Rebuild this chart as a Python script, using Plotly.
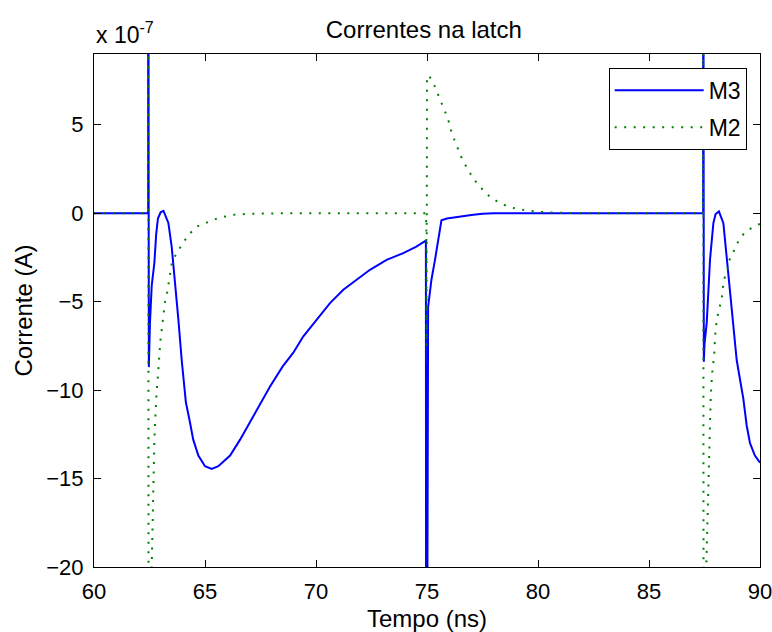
import plotly.graph_objects as go

# Correntes nos transistores da latch, em unidades de 1e-7 A, versus tempo em ns
t_m3 = [60.0, 62.44, 62.44, 62.47, 62.52, 62.6, 62.72, 62.8, 62.88, 63.0, 63.13,
        63.35, 63.5, 63.65, 63.8, 63.95, 64.02, 64.14, 64.32, 64.47, 64.7, 65.0,
        65.3, 65.6, 66.13, 66.58, 67.03, 67.48, 67.93, 68.5, 68.97, 69.43, 70.03,
        70.63, 71.23, 71.83, 72.43, 73.18, 73.93, 74.5, 74.95, 74.96, 75.0, 75.05,
        75.14, 75.2, 75.36, 75.5, 75.58, 75.65, 75.9, 76.4, 77.0, 77.5, 78.0,
        87.44, 87.44, 87.47, 87.5, 87.6, 87.75, 87.9, 88.0, 88.15, 88.35, 88.5,
        88.65, 88.8, 88.95, 89.1, 89.25, 89.4, 89.55, 89.77, 89.93, 90.0]
i_m3 = [0.0, 0.0, 30.0, -8.7, -6.2, -4.1, -2.8, -1.2, -0.3, 0.05, 0.13,
        -0.55, -1.9, -3.76, -6.0, -8.3, -9.2, -10.7, -11.8, -12.8, -13.7, -14.3,
        -14.45, -14.3, -13.7, -12.8, -11.8, -10.8, -9.8, -8.66, -7.9, -6.96, -6.0,
        -5.08, -4.33, -3.76, -3.2, -2.64, -2.26, -1.9, -1.55, -30.0, -30.0, -5.3,
        -4.4, -3.76, -2.64, -1.5, -0.75, -0.4, -0.3, -0.2, -0.1, -0.03, 0.0,
        0.0, 30.0, -8.4, -7.4, -6.2, -2.6, -0.56, -0.05, 0.1, -0.56, -2.45,
        -4.3, -6.2, -8.3, -9.4, -10.5, -12.0, -13.0, -13.7, -14.0, -14.1]

t_m2 = [60.0, 62.44, 62.44, 62.46, 62.6, 62.67, 62.72, 62.8, 62.87, 62.94, 63.0,
        63.05, 63.1, 63.15, 63.2, 63.3, 63.37, 63.5, 63.7, 63.96, 64.23, 64.64,
        65.07, 65.5, 65.9, 66.35, 67.0, 68.0, 69.0, 74.95, 74.97, 74.98, 75.0,
        75.08, 75.33, 75.5, 75.68, 75.84, 76.0, 76.1, 76.26, 76.43, 76.6, 76.85,
        77.1, 77.45, 77.87, 78.3, 78.73, 79.15, 79.57, 80.0, 80.5, 81.0, 82.0,
        87.44, 87.44, 87.46, 87.58, 87.67, 87.7, 87.75, 87.78, 87.84, 87.93, 88.0,
        88.12, 88.27, 88.37, 88.53, 88.6, 88.8, 88.97, 89.3, 89.73, 90.0]
i_m2 = [0.0, 0.0, 30.0, -40.0, -20.0, -15.0, -12.8, -10.5, -9.2, -8.2, -7.1,
        -6.6, -6.0, -5.5, -5.0, -4.45, -3.9, -2.86, -2.3, -1.8, -1.26, -0.75,
        -0.53, -0.32, -0.19, -0.08, -0.03, -0.01, 0.0, 0.0, -1.0, -7.5, 7.7,
        7.8, 7.24, 6.7, 6.19, 5.66, 5.1, 4.59, 4.06, 3.53, 3.0, 2.46,
        1.93, 1.41, 0.88, 0.56, 0.34, 0.22, 0.13, 0.08, 0.04, 0.02, 0.0,
        0.0, 30.0, -40.0, -20.0, -14.9, -13.5, -11.3, -10.4, -9.1, -8.1, -6.5,
        -5.6, -4.9, -3.76, -3.3, -2.7, -2.2, -1.7, -1.1, -0.75, -0.6]

x_ticks = [60, 65, 70, 75, 80, 85, 90]
y_ticks = [-20, -15, -10, -5, 0, 5]

FONT = "Liberation Sans, Arial, sans-serif"
FS_TICK = 22
FS_LABEL = 24

fig = go.Figure()
fig.add_trace(go.Scatter(
    x=t_m3, y=i_m3, mode="lines", name="M3", legendgroup="m3",
    line=dict(color="#0000FF", width=2),
))
fig.add_trace(go.Scatter(
    x=t_m2, y=i_m2, mode="lines", name="M2", legendgroup="m2",
    line=dict(color="#008000", width=2, dash="2px,7.5px"),
))

axis_common = dict(
    showline=True, linecolor="black", linewidth=1, mirror="ticks",
    ticks="inside", ticklen=7, tickcolor="black", tickwidth=1,
    showgrid=False, zeroline=False, ticklabeloverflow="allow",
    automargin=False,
    tickfont=dict(family=FONT, size=FS_TICK, color="black"),
)

fig.update_layout(
    width=772, height=632,
    margin=dict(l=94, r=12, t=54, b=65),
    plot_bgcolor="white", paper_bgcolor="white",
    font=dict(family=FONT, size=FS_TICK, color="black"),
    title=dict(text="Correntes na latch", x=0.549, xanchor="center",
               y=1 - 30 / 632, yanchor="middle",
               font=dict(family=FONT, size=FS_LABEL, color="black")),
    xaxis=dict(range=[60, 90], tickvals=x_ticks, ticklabelstandoff=5,
               title=dict(text="Tempo (ns)", standoff=8,
                          font=dict(family=FONT, size=FS_LABEL)),
               **axis_common),
    yaxis=dict(range=[-20, 9], tickvals=y_ticks, ticklabelstandoff=5,
               title=dict(text="Corrente (A)", standoff=6,
                          font=dict(family=FONT, size=FS_LABEL)),
               **axis_common),
    legend=dict(x=0.98, xanchor="right", y=0.973, yanchor="top",
                bgcolor="white", bordercolor="black", borderwidth=1,
                itemwidth=89, tracegroupgap=4, traceorder="grouped",
                font=dict(family=FONT, size=23)),
    showlegend=True,
)

fig.add_annotation(
    text="x 10<sup>-7</sup>", xref="paper", yref="paper",
    x=0, y=1, xanchor="left", yanchor="bottom", yshift=4,
    showarrow=False, font=dict(family=FONT, size=23, color="black"),
)

fig.write_html("out.html")
